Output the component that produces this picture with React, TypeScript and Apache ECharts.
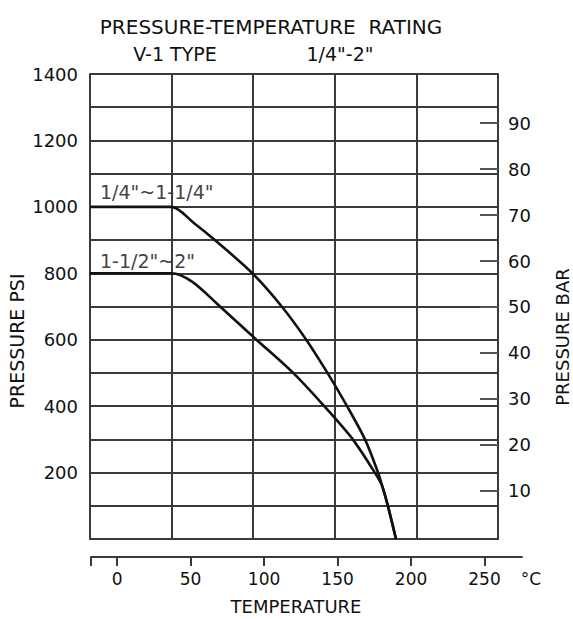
import React, { useEffect, useRef } from "react";
import * as echarts from "echarts";

// Temperatures in °F (grid columns are 100 °F apart), pressures in psi
const tempF1 = [0, 90, 100, 128, 153, 199, 235, 265, 291, 315, 337, 353, 358, 365, 375];
const psi1 = [1000, 1000, 1000, 950, 900, 800, 700, 600, 500, 400, 300, 200, 160, 100, 0];
const tempF2 = [0, 88, 100, 125, 155, 204, 249, 287, 322, 349, 358, 365, 375];
const psi2 = [800, 800, 800, 775, 710, 600, 500, 400, 300, 200, 160, 100, 0];
const seriesNames = ['1/4"~1-1/4"', '1-1/2"~2"'];

const barTicks = [10, 20, 30, 40, 50, 60, 70, 80, 90];
const celsiusTicks = [0, 50, 100, 150, 200, 250];
const celsiusStart = -17.78; // 0 °F
const celsiusEnd = 275.5;

export default function App() {
  const ref = useRef<HTMLDivElement>(null);
  useEffect(() => {
    const chart = echarts.init(ref.current!, null, { renderer: "svg" });
    const font = "'DejaVu Sans', sans-serif";
    const lineCol = "#3a3a3a";
    const text = (t: string, x: number, y: number, size: number, extra: any = {}) => ({
      type: "text",
      x,
      y,
      rotation: extra.rotation || 0,
      style: {
        text: t,
        font: `${extra.weight || "normal"} ${size}px ${font}`,
        fill: extra.fill || "#111",
        align: extra.align || "center",
        verticalAlign: "middle",
        textAlign: extra.align || "center",
        textVerticalAlign: "middle",
      },
    });
    const option: any = {
      animation: false,
      backgroundColor: "#fff",
      textStyle: { fontFamily: font, color: "#111" },
      grid: [
        { left: 90, top: 74, width: 408, height: 465 },
        { left: 91, top: 556, width: 431, height: 1 },
      ],
      xAxis: [
        {
          type: "value",
          gridIndex: 0,
          min: 0,
          max: 500,
          interval: 100,
          axisLine: { show: true, lineStyle: { color: lineCol, width: 2 } },
          axisTick: { show: false },
          axisLabel: { show: false },
          splitLine: { show: true, lineStyle: { color: lineCol, width: 2 } },
        },
        {
          type: "value",
          gridIndex: 1,
          position: "bottom",
          min: celsiusStart,
          max: celsiusEnd,
          axisLine: { show: true, lineStyle: { color: lineCol, width: 2 } },
          axisTick: {
            show: true,
            customValues: [celsiusStart, ...celsiusTicks],
            length: 9,
            lineStyle: { color: lineCol, width: 2 },
          },
          axisLabel: { customValues: celsiusTicks, margin: 13, fontSize: 17, color: "#111", fontFamily: font },
          splitLine: { show: false },
        },
      ],
      yAxis: [
        {
          type: "value",
          gridIndex: 0,
          position: "left",
          min: 0,
          max: 1400,
          interval: 100,
          axisLine: { show: true, lineStyle: { color: lineCol, width: 2 } },
          axisTick: { show: false },
          axisLabel: {
            fontSize: 18,
            margin: 12,
            color: "#111",
            fontFamily: font,
            formatter: (v: number) => (v === 0 || v % 200 !== 0 ? "" : String(v)),
          },
          splitLine: { show: true, lineStyle: { color: lineCol, width: 2 } },
        },
        {
          type: "value",
          gridIndex: 0,
          position: "right",
          min: -0.5,
          max: 100.7,
          axisLine: { show: true, lineStyle: { color: lineCol, width: 2 } },
          axisTick: {
            show: true,
            inside: true,
            length: 18,
            customValues: barTicks,
            lineStyle: { color: "#555", width: 2 },
          },
          axisLabel: { customValues: barTicks, margin: 10, fontSize: 18, color: "#111", fontFamily: font },
          splitLine: { show: false },
        },
        { type: "value", gridIndex: 1, show: false, min: 0, max: 1 },
      ],
      series: [
        {
          type: "line",
          name: seriesNames[0],
          xAxisIndex: 0,
          yAxisIndex: 0,
          data: tempF1.map((t, i) => [t, psi1[i]]),
          showSymbol: false,
          smooth: 0.3,
          lineStyle: { color: "#111", width: 2.6 },
        },
        {
          type: "line",
          name: seriesNames[1],
          xAxisIndex: 0,
          yAxisIndex: 0,
          data: tempF2.map((t, i) => [t, psi2[i]]),
          showSymbol: false,
          smooth: 0.3,
          lineStyle: { color: "#111", width: 2.6 },
        },
      ],
      graphic: [
        text("PRESSURE-TEMPERATURE  RATING", 271, 27, 20),
        text("V-1 TYPE", 175, 54, 19),
        text('1/4"-2"', 340, 54, 19),
        text(seriesNames[0], 100, 192, 19, { align: "left", fill: "#444" }),
        text(seriesNames[1], 100, 261, 19, { align: "left", fill: "#444" }),
        text("PRESSURE PSI", 17, 341, 19, { rotation: Math.PI / 2 }),
        text("PRESSURE BAR", 562, 337, 18, { rotation: Math.PI / 2 }),
        text("TEMPERATURE", 296, 606, 18),
        text("°C", 531, 579, 17),
      ],
    };
    chart.setOption(option);
    return () => chart.dispose();
  }, []);
  return <div ref={ref} style={{ position: "fixed", left: 0, top: 0, width: 573, height: 619 }} />;
}
